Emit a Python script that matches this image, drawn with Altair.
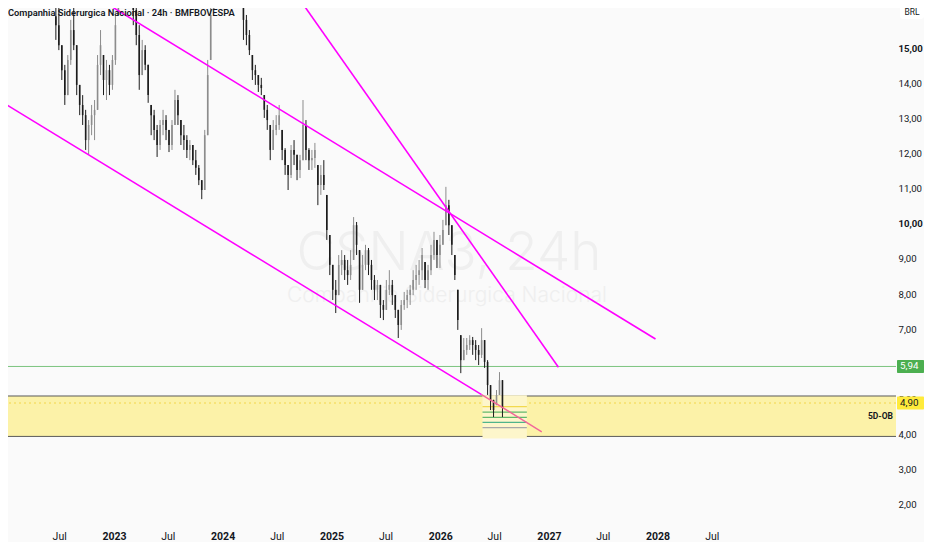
import altair as alt
import pandas as pd

# ---------------- data ----------------
bar_start = "2022-06-20"
bar_step_days = 10
first_open = 15.90
highs = [16.20, 16.50, 15.08, 14.52, 14.80, 15.80, 16.22, 15.08, 13.95, 13.66,
         13.24, 12.95, 13.38, 13.52, 14.80, 15.51, 14.80, 14.66, 14.52, 14.80,
         15.94, 16.94, 17.40, 17.80, 17.60, 17.30, 16.51, 16.22, 15.65, 15.23,
         15.08, 14.52, 13.38, 13.24, 12.81, 12.95, 13.24, 13.09, 12.67, 12.95,
         13.81, 13.66, 12.95, 12.81, 12.52, 12.38, 12.24, 12.10, 11.67, 11.24,
         12.67, 14.66, 16.60, 17.30, 17.80, 18.20, 18.00, 17.80, 17.90, 18.10,
         17.70, 17.40, 17.00, 16.50, 15.94, 15.51, 14.80, 14.52, 14.23, 14.15,
         13.66, 13.38, 12.81, 12.95, 13.09, 13.38, 12.67, 12.15, 11.67, 12.24,
         12.38, 11.96, 11.96, 13.52, 12.95, 12.15, 12.10, 12.30, 11.67, 11.67,
         11.81, 10.82, 9.68, 8.83, 8.40, 9.11, 9.25, 9.11, 8.97, 9.25,
         10.19, 10.05, 9.25, 9.11, 9.40, 9.31, 8.97, 8.54, 8.40, 8.26,
         7.83, 8.40, 8.68, 8.40, 7.97, 7.55, 7.83, 8.06, 8.12, 8.26,
         8.68, 8.83, 8.97, 9.31, 8.91, 8.83, 9.40, 9.77, 9.54, 9.68,
         10.11, 11.05, 10.68, 9.96, 9.11, 8.12, 6.83, 6.75, 6.75, 6.83,
         6.78, 6.69, 6.55, 7.03, 6.69, 6.12, 5.41, 4.99, 5.27, 5.78,
         5.55]
lows = [15.23, 14.94, 14.09, 13.38, 13.66, 14.52, 14.94, 13.66, 13.09, 12.81,
        12.10, 11.96, 12.52, 12.38, 13.24, 14.23, 13.66, 13.52, 13.66, 13.81,
        14.52, 15.94, 16.50, 16.80, 16.70, 16.30, 15.65, 15.08, 13.81, 14.23,
        14.37, 13.44, 12.52, 12.38, 11.90, 12.10, 12.52, 12.38, 12.04, 12.10,
        12.81, 12.81, 12.24, 12.10, 11.87, 11.81, 11.67, 11.39, 11.10, 10.70,
        10.96, 12.52, 14.66, 16.08, 16.90, 17.20, 17.10, 16.90, 17.00, 17.20,
        16.80, 16.60, 16.22, 15.23, 15.08, 14.80, 14.09, 13.95, 13.75, 13.66,
        13.01, 12.67, 11.81, 12.10, 12.52, 12.67, 11.81, 11.39, 10.96, 11.30,
        11.67, 11.24, 11.30, 11.81, 11.81, 11.53, 11.53, 11.59, 10.53, 10.82,
        10.96, 9.54, 8.54, 7.83, 7.46, 7.97, 8.54, 8.40, 8.26, 8.40,
        8.97, 9.11, 7.75, 8.12, 8.68, 8.54, 8.12, 7.83, 7.83, 7.32,
        7.26, 7.55, 7.97, 7.69, 7.32, 6.75, 6.98, 7.55, 7.60, 7.69,
        7.97, 8.12, 8.26, 8.40, 8.17, 8.12, 8.54, 8.97, 8.74, 8.74,
        9.40, 9.96, 9.68, 9.11, 8.40, 6.98, 5.75, 6.12, 6.27, 6.41,
        6.27, 6.12, 5.98, 6.18, 5.90, 5.13, 4.70, 4.50, 4.84, 5.13,
        4.50]
closes = [15.65, 15.08, 14.37, 13.66, 14.66, 15.51, 15.08, 13.95, 13.38, 13.09,
          12.38, 12.81, 13.09, 13.24, 14.52, 15.08, 14.09, 14.37, 13.95, 14.66,
          15.65, 16.51, 17.00, 17.30, 17.00, 16.60, 16.08, 15.37, 14.23, 14.94,
          14.52, 13.66, 13.09, 12.67, 12.24, 12.81, 12.95, 12.67, 12.24, 12.81,
          13.52, 13.09, 12.52, 12.38, 12.10, 12.24, 11.81, 11.59, 11.24, 10.96,
          12.52, 14.23, 15.94, 16.90, 17.40, 17.60, 17.50, 17.30, 17.60, 17.50,
          17.10, 16.90, 16.50, 15.80, 15.37, 14.94, 14.37, 14.23, 13.95, 13.86,
          13.24, 12.95, 12.10, 12.67, 12.81, 13.09, 12.10, 11.67, 11.39, 12.10,
          11.96, 11.53, 11.81, 12.81, 12.10, 11.81, 11.87, 12.10, 11.10, 11.39,
          11.10, 9.82, 8.83, 8.12, 7.97, 8.83, 8.97, 8.68, 8.54, 8.83,
          9.96, 9.40, 8.12, 8.83, 9.25, 8.83, 8.40, 8.12, 8.26, 7.69,
          7.55, 8.12, 8.26, 7.97, 7.55, 7.12, 7.69, 7.83, 7.97, 8.12,
          8.40, 8.54, 8.68, 9.11, 8.40, 8.68, 9.11, 9.54, 9.11, 9.40,
          9.82, 10.53, 9.96, 9.40, 8.54, 7.26, 6.12, 6.41, 6.55, 6.69,
          6.55, 6.41, 6.27, 6.69, 6.07, 5.41, 4.99, 4.70, 5.13, 5.55,
          4.76]

trend_names = ["lower", "lower", "upper", "upper", "steep", "steep"]
trend_dates = ["2022-01-01", "2026-05-20", "2022-11-17", "2027-12-25", "2024-09-17", "2027-02-02"]
trend_prices = [13.41, 5.14, 16.37, 6.72, 16.37, 5.92]
pink_dates = ["2026-05-20", "2026-12-08"]
pink_prices = [5.14, 4.08]

zone_top = 5.10
zone_bottom = 3.95
level_green = 5.94
level_dotted = 4.90
inner_start = "2026-05-23"
inner_end = "2026-10-19"
inner_top = 5.12
inner_bottom = 3.89
short_names = ["l1", "l2", "l3", "l4", "l5"]
short_prices = [4.80, 4.64, 4.49, 4.35, 4.20]
zone_label = "5D-OB"
zone_label_price = 4.53

tag_prices = [5.94, 4.90]
tag_names = ["green", "yellow"]

y_ticks = [2, 3, 4, 5, 7, 8, 9, 10, 11, 12, 13, 14, 15]
x_tick_dates = [(2022, 7), (2023, 1), (2023, 7), (2024, 1), (2024, 7), (2025, 1), (2025, 7),
                (2026, 1), (2026, 7), (2027, 1), (2027, 7), (2028, 1), (2028, 7)]

title_text = "Companhia Siderurgica Nacional · 24h · BMFBOVESPA"
wm_big = "CSNA3, 24h"
wm_small = "Companhia Siderurgica Nacional"

# ---------------- layout ----------------
W, H = 888, 519
Y_MIN, Y_MAX = 1.373, 16.138
FONT = "Roboto"
TXT = "#131722"

dates = pd.date_range(bar_start, periods=len(closes), freq=f"{bar_step_days}D")
opens = []
prev = first_open
for h, l, c in zip(highs, lows, closes):
    opens.append(min(max(prev, l), h))
    prev = c
candles = pd.DataFrame({
    "date": dates.strftime("%Y-%m-%d"),
    "open": opens, "high": highs, "low": lows, "close": closes,
})
candles["dir"] = ["up" if c >= o else "down" for o, c in zip(opens, closes)]

trend = pd.DataFrame({"name": trend_names, "date": trend_dates, "price": trend_prices})
pink = pd.DataFrame({"date": pink_dates, "price": pink_prices})

x_scale = alt.Scale(type="utc", domain=[alt.DateTime(year=2022, month=1, date=27, utc=True),
                                         alt.DateTime(year=2030, month=2, date=23, utc=True)])
y_scale = alt.Scale(domain=[Y_MIN, Y_MAX], nice=False, zero=False)

x_axis = alt.Axis(
    values=[alt.DateTime(year=y, month=m, date=1, utc=True) for y, m in x_tick_dates],
    labelExpr="utcmonth(datum.value) == 0 ? utcFormat(datum.value, '%Y') : 'Jul'",
    labelFontWeight={"condition": {"test": "utcmonth(datum.value) == 0", "value": "bold"}, "value": "normal"},
    domain=False, ticks=False, grid=False, title=None, labelPadding=4,
    labelFontSize=10.5, labelColor=TXT, labelFont=FONT, labelOverlap=False, labelFlush=False,
)
y_axis = alt.Axis(
    orient="right", values=y_ticks,
    labelExpr="replace(format(datum.value, '.2f'), '.', ',')",
    labelFontWeight={"condition": {"test": "datum.value == 10 || datum.value == 15", "value": "bold"}, "value": "normal"},
    domain=False, ticks=False, grid=False, title=None, labelPadding=2,
    labelFontSize=9.6, labelColor=TXT, labelFont=FONT, labelOverlap=False, labelFlush=False,
)

def X(field="date"):
    return alt.X(f"{field}:T", scale=x_scale, axis=x_axis)

def Y(field="price"):
    return alt.Y(f"{field}:Q", scale=y_scale, axis=y_axis)

one = pd.DataFrame({"k": [0]})

# watermark
wm1 = alt.Chart(one).mark_text(text=wm_big, fontSize=53, font="Inter", fontWeight=300,
                                color="#efefef", align="center", baseline="alphabetic").encode(
    x=alt.value(441), y=alt.value(262))
wm2 = alt.Chart(one).mark_text(text=wm_small, fontSize=21, font="Inter", fontWeight=300,
                                color="#efefef", align="center", baseline="alphabetic").encode(
    x=alt.value(439), y=alt.value(294))

# yellow zone
zone_df = pd.DataFrame({"top": [zone_top], "bottom": [zone_bottom]})
zone = alt.Chart(zone_df).mark_rect(color="#fcf2a8").encode(
    y=Y("top"), y2="bottom", x=alt.value(0), x2=alt.value(W))
zone_edges = alt.Chart(pd.DataFrame({"price": [zone_top, zone_bottom]})).mark_rule(
    color="#5a5a5a", strokeWidth=1).encode(y=Y())
dotted = alt.Chart(pd.DataFrame({"price": [level_dotted]})).mark_rule(
    color="#f3d64a", strokeWidth=1, strokeDash=[2, 3]).encode(y=Y())
green = alt.Chart(pd.DataFrame({"price": [level_green]})).mark_rule(
    color="#7cc47f", strokeWidth=1).encode(y=Y())

inner_df = pd.DataFrame({"date": [inner_start], "date2": [inner_end], "top": [inner_top], "bottom": [inner_bottom]})
inner = alt.Chart(inner_df).mark_rect(color="#fdf6cb").encode(
    x=X(), x2="date2:T", y=Y("top"), y2="bottom")
short_df = pd.DataFrame({"name": short_names, "price": short_prices,
                         "date": inner_start, "date2": inner_end})
shorts = alt.Chart(short_df).mark_rule(strokeWidth=1.2).encode(
    x=X(), x2="date2:T", y=Y(),
    color=alt.Color("name:N", legend=None,
                    scale=alt.Scale(domain=short_names,
                                    range=["#f2d94e", "#62b86a", "#62b86a", "#4fb58a", "#a8a8a8"])))

# candles
dir_scale = alt.Scale(domain=["up", "down"], range=["#8c8c8c", "#1c1c1c"])
wicks = alt.Chart(candles).mark_rule(strokeWidth=1, clip=True).encode(
    x=X(), y=Y("low"), y2="high", color=alt.Color("dir:N", scale=dir_scale, legend=None))
bodies = alt.Chart(candles).mark_bar(size=1.6, clip=True).encode(
    x=X(), y=Y("open"), y2="close", color=alt.Color("dir:N", scale=dir_scale, legend=None))

# trend lines
lines = alt.Chart(trend).mark_line(color="#ff00ff", strokeWidth=1.6, clip=True).encode(
    x=X(), y=Y(), detail="name:N")
pink_line = alt.Chart(pink).mark_line(color="#f2679a", strokeWidth=1.4, clip=True).encode(
    x=X(), y=Y())

# texts
title = alt.Chart(one).mark_text(text=title_text, fontSize=9.3, font=FONT, fontWeight=600,
                                 color=TXT, align="left", baseline="top").encode(
    x=alt.value(0), y=alt.value(1))
zlabel = alt.Chart(pd.DataFrame({"price": [zone_label_price]})).mark_text(
    text=zone_label, fontSize=8.5, font=FONT, fontWeight="bold", color=TXT, align="right").encode(
    x=alt.value(885), y=Y())

# price tags
px_per_unit = H / (Y_MAX - Y_MIN)
half = 6.5 / px_per_unit
tags = pd.DataFrame({"name": tag_names, "price": tag_prices})
tags["top"] = tags["price"] + half
tags["bottom"] = tags["price"] - half
tag_rects = alt.Chart(tags).mark_rect(cornerRadius=1).encode(
    y=Y("top"), y2="bottom", x=alt.value(889), x2=alt.value(916),
    color=alt.Color("name:N", legend=None,
                    scale=alt.Scale(domain=tag_names, range=["#4caf50", "#ffeb3b"])))
tag_text = alt.Chart(tags).transform_calculate(
    label="replace(format(datum.price, '.2f'), '.', ',')"
).mark_text(fontSize=9.8, font=FONT, align="left", baseline="middle").encode(
    y=Y(), x=alt.value(892), text="label:N",
    color=alt.Color("name:N", legend=None,
                    scale=alt.Scale(domain=tag_names, range=["#ffffff", TXT])))

brl_box = alt.Chart(one).mark_rect(color="#ffffff", cornerRadius=3).encode(
    x=alt.value(892), x2=alt.value(916), y=alt.value(-4), y2=alt.value(11))
brl_txt = alt.Chart(one).mark_text(text="BRL", fontSize=8.5, font=FONT, color=TXT,
                                   align="center", baseline="middle").encode(
    x=alt.value(904), y=alt.value(4))

chart = alt.layer(
    wm1, wm2, zone, zone_edges, dotted, green, inner, shorts,
    wicks, bodies, lines, pink_line, title, zlabel,
    tag_rects, tag_text, brl_box, brl_txt,
).resolve_scale(color="independent").properties(
    width=W, height=H,
    autosize=alt.AutoSizeParams(type="none"),
    padding={"left": 0, "top": 0, "right": 28, "bottom": 15},
    background="#fafafa",
).configure_view(stroke=None)

chart.save("out.html", embed_options={"renderer": "svg", "actions": False})
